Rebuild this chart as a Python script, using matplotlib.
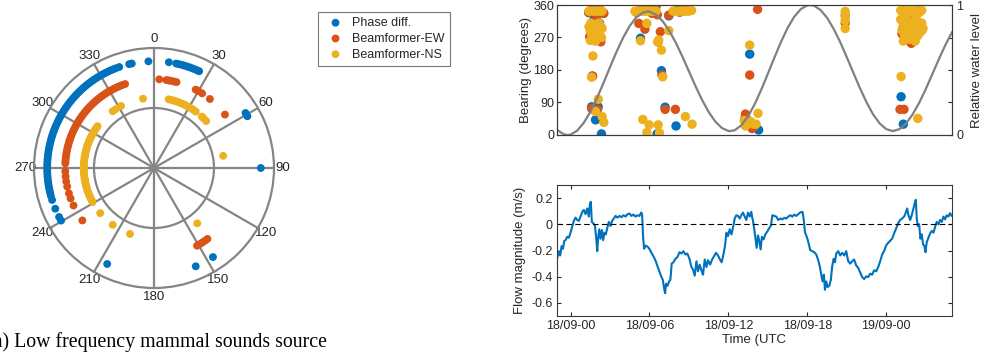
import matplotlib
matplotlib.use('Agg')
import matplotlib.pyplot as plt
import numpy as np

plt.rcParams['font.family'] = ['Liberation Sans', 'DejaVu Sans']
plt.rcParams['axes.unicode_minus'] = False

# ---------------- data ----------------
series_names = ['Phase diff.', 'Beamformer-EW', 'Beamformer-NS']

# polar plot: bearings (degrees) and plotted radius of each series
phase_polar_deg = [240.5, 242.7, 247.6, 252.6, 255, 256.5, 258, 259.5, 261, 262.5, 264, 265.5,
                   267, 268.5, 270, 271.5, 273, 274.5, 276, 277.5, 279, 280.5, 282, 283.5, 285,
                   286.5, 288, 289.5, 291, 292.5, 294, 295.5, 297, 298.5, 300, 301.5, 303, 304.5,
                   306, 307.5, 309, 310.5, 312, 313.5, 315, 316.5, 318, 319.5, 321, 322.5, 324,
                   325.5, 327, 328.5, 330, 331.5, 333, 334.5, 336, 337.5, 339, 341, 346.6, 348,
                   357, 8, 12, 13.5, 15, 16.5, 18, 19.5, 21, 22.5, 24, 25, 59, 61, 90, 146.5,
                   157, 206]
ew_polar_deg = [233.8, 245, 250, 253.4, 257.9, 261.3, 264.5, 267.8, 273, 274.5, 276, 277.5,
                279, 280.5, 282, 283.5, 285, 286.5, 288, 289.5, 291, 292.5, 294, 295.5, 297,
                298.5, 300, 301.5, 303, 304.5, 306, 307.5, 309, 310.5, 312, 313.5, 315, 316.5,
                318, 319.5, 321, 322.5, 324, 325.5, 327, 328.5, 330, 331.5, 333, 334.5, 336,
                337.5, 339, 341, 3.4, 8, 9.5, 11, 13, 14.7, 28, 30, 32.8, 39, 53, 143, 145,
                147, 149, 151]
ns_polar_deg = [230, 241, 242.5, 244, 245.5, 247, 248.5, 250, 251.5, 253, 254.5, 256, 257.5,
                259, 260.5, 262, 263.5, 265, 266.5, 268, 269.5, 271, 272.5, 274, 275.5, 277,
                278.5, 280, 281.5, 283, 284.5, 286, 287.5, 289, 290.5, 292, 293.5, 295, 296.5,
                298, 299.5, 301, 302.5, 304, 305.5, 306.5, 324, 327, 332, 351, 12, 14, 16, 18,
                20, 22, 24, 26, 28, 30, 32, 34, 36.5, 43, 45, 48, 80, 142, 200, 216]
polar_radius = [0.89, 0.74, 0.585]

# bearing vs time (hours after 18/09 00:00 UTC)
phase_t = [1.39, 1.55, 1.60, 2.10, 1.65, 1.90, 2.35, 1.90, 2.50, 1.50, 1.80, 2.00, 2.20, 1.70,
           5.32, 5.90, 6.50, 6.91, 7.19, 6.58, 7.47, 8.02, 8.70, 8.20, 5.60, 6.20,
           13.62, 14.30, 13.50,
           26.45, 25.13, 25.30, 25.20, 25.50, 25.80, 26.20, 26.60, 25.40]
phase_b = [339, 291, 78, 78, 163, 42, 3, 354, 337, 300, 320, 280, 310, 270,
           268, 358, 356, 178, 77, 3, 330, 25, 357, 352, 345, 340,
           224, 14, 40,
           358, 106, 30, 320, 300, 280, 330, 290, 340]
ew_t = [1.39, 1.90, 2.53, 1.45, 2.30, 1.70, 2.00, 1.60, 1.65, 2.05, 1.68, 1.55, 2.20,
        5.19, 5.65, 5.00, 5.40, 5.80, 6.20, 6.45, 6.60, 6.83, 6.66, 6.95, 7.19, 7.47, 7.97,
        8.30, 8.90, 8.60,
        14.22, 13.62, 13.30, 13.25, 13.40, 13.80, 14.00,
        20.88, 20.88, 25.05, 25.35, 25.90, 25.30, 25.60, 26.00, 26.30, 26.70, 25.40, 26.50, 25.20]
ew_b = [339, 354, 337, 272, 258, 300, 330, 74, 71, 71, 163, 345, 350,
        309, 293, 340, 350, 345, 337, 350, 333, 286, 258, 166, 71, 332, 71,
        340, 345, 350,
        348, 166, 58, 46, 28, 18, 25,
        332, 310, 71, 71, 254, 300, 320, 335, 310, 290, 345, 340, 280]
ns_t = [1.40, 1.60, 1.80, 2.00, 2.20, 2.40, 1.40, 1.50, 1.55, 1.60, 1.70, 1.75, 1.80, 1.85,
        1.95, 2.00, 2.05, 2.15, 2.20, 2.30, 2.40, 1.50, 1.90, 2.35, 1.70, 1.60, 2.10, 1.90,
        2.40, 2.53,
        4.90, 5.10, 5.30, 5.50, 5.70, 5.90, 6.10, 6.30, 6.50, 5.80, 5.32, 6.70, 6.62, 6.91,
        7.47, 7.01, 5.49, 5.98, 5.80, 6.66, 6.76, 8.73, 9.24, 7.80, 8.00, 8.20, 8.40, 8.60,
        8.80, 9.00, 9.20,
        13.62, 13.20, 13.35, 13.50, 13.70, 13.90, 14.25, 14.10, 13.30,
        20.88, 20.88, 20.88, 20.88, 25.10, 25.30, 25.50, 25.70, 25.90, 26.10, 26.30, 26.50,
        26.70, 25.10, 25.30, 25.50, 25.70, 25.90, 26.10, 26.30, 26.50, 26.70, 25.20, 25.40,
        25.60, 25.80, 26.00, 26.20, 26.40, 26.60, 26.80, 25.60, 26.00, 25.30, 25.13, 26.40]
ns_b = [343, 343, 343, 343, 343, 343, 300, 290, 310, 280, 295, 265, 305, 285,
        300, 270, 290, 310, 280, 300, 295, 262, 260, 270, 219, 160, 99, 65,
        51, 35,
        343, 343, 343, 343, 343, 343, 343, 343, 343, 309, 261, 263, 258, 235,
        289, 161, 43, 28, 7, 28, 6, 51, 30, 343, 343, 343, 343, 343,
        343, 343, 345,
        249, 40, 32, 35, 37, 30, 60, 30, 25,
        342, 328, 317, 295, 345, 340, 345, 340, 345, 340, 345, 340,
        345, 320, 310, 325, 300, 315, 290, 320, 300, 310, 290, 275,
        285, 265, 280, 260, 275, 285, 295, 300, 305, 260, 162, 46]

# relative water level
tide_t = [-1.0, -0.5, -0.23, 0.0, 0.5, 1.0, 1.5, 2.0, 2.5, 3.0, 3.5, 4.0, 4.5, 5.0, 5.5, 5.85,
          6.0, 6.5, 7.0, 7.5, 8.0, 8.5, 9.0, 9.5, 10.0, 10.5, 11.0, 11.5, 12.0, 12.15, 12.5,
          13.0, 13.5, 14.0, 14.5, 15.0, 15.5, 16.0, 16.5, 17.0, 17.5, 18.0, 18.2, 18.5, 19.0,
          19.5, 20.0, 20.5, 21.0, 21.5, 22.0, 22.5, 23.0, 23.5, 24.0, 24.5, 25.0, 25.5, 26.0,
          26.5, 27.0, 27.5, 28.0, 28.5, 29.0]
tide_level = [0.037, 0.005, 0.0, 0.003, 0.033, 0.093, 0.177, 0.282, 0.399, 0.522, 0.641,
              0.749, 0.839, 0.905, 0.942, 0.95,
              0.949, 0.926, 0.876, 0.803, 0.710, 0.604, 0.490, 0.376, 0.270, 0.177, 0.104,
              0.054, 0.031, 0.03, 0.038,
              0.076, 0.144, 0.237, 0.349, 0.471, 0.596, 0.716, 0.823, 0.909, 0.968, 0.997,
              1.0, 0.995, 0.962,
              0.902, 0.817, 0.715, 0.599, 0.479, 0.361, 0.252, 0.159, 0.089, 0.045, 0.030,
              0.045, 0.088, 0.157,
              0.247, 0.352, 0.467, 0.583, 0.693, 0.790]

# flow magnitude (m/s)
flow_t = [-1.01, -0.89, -0.79, -0.68, -0.58, -0.48, -0.38, -0.25, -0.13, 0.00,
          0.13, 0.25, 0.38, 0.51, 0.63, 0.76, 0.89, 1.01, 1.14, 1.27,
          1.39, 1.47, 1.54, 1.62, 1.72, 1.85, 1.95, 2.03, 2.10, 2.18,
          2.28, 2.38, 2.48, 2.58, 2.68, 2.78, 2.91, 3.04, 3.16, 3.29,
          3.42, 3.57, 3.72, 3.87, 4.02, 4.18, 4.33, 4.48, 4.63, 4.78,
          4.94, 5.09, 5.24, 5.37, 5.44, 5.52, 5.59, 5.72, 5.87, 6.02,
          6.18, 6.33, 6.48, 6.63, 6.78, 6.91, 7.01, 7.11, 7.19, 7.26,
          7.37, 7.49, 7.59, 7.69, 7.82, 7.97, 8.13, 8.28, 8.43, 8.58,
          8.73, 8.88, 9.04, 9.19, 9.31, 9.44, 9.57, 9.69, 9.82, 9.95,
          10.07, 10.20, 10.33, 10.45, 10.61, 10.76, 10.91, 11.06, 11.21, 11.36,
          11.49, 11.62, 11.74, 11.85, 11.97, 12.10, 12.23, 12.35, 12.48, 12.60,
          12.73, 12.86, 12.98, 13.11, 13.24, 13.36, 13.49, 13.62, 13.74,
          13.79, 13.87, 13.97, 14.05, 14.15, 14.25, 14.35, 14.45, 14.55, 14.68,
          14.81, 14.93, 15.09, 15.24, 15.34, 15.49, 15.64, 15.79, 15.95, 16.10,
          16.25, 16.40, 16.55, 16.71, 16.86, 17.01, 17.16, 17.31, 17.46, 17.64,
          17.74, 17.82, 17.92, 18.02, 18.12, 18.22, 18.38, 18.53, 18.68, 18.83,
          18.96, 19.06, 19.16, 19.26, 19.34, 19.44, 19.54, 19.67, 19.79, 19.89,
          20.00, 20.10, 20.20, 20.35, 20.50, 20.65, 20.81, 20.96, 21.11, 21.26,
          21.41, 21.56, 21.72, 21.87, 22.02, 22.17, 22.32, 22.48, 22.63, 22.78,
          22.93, 23.08, 23.24, 23.39, 23.54, 23.69, 23.84, 23.99, 24.15, 24.30,
          24.45, 24.60, 24.75, 24.91, 25.06, 25.21, 25.36, 25.49, 25.59, 25.69,
          25.82, 25.94, 26.07, 26.17, 26.25, 26.32, 26.40, 26.50, 26.60, 26.70,
          26.80, 26.91, 26.98, 27.08, 27.21, 27.34, 27.46, 27.59, 27.72, 27.84,
          27.97, 28.09, 28.22, 28.35, 28.47, 28.60, 28.73, 28.85, 28.98, 29.10]
flow_v = [-0.256, -0.205, -0.238, -0.167, -0.187, -0.128, -0.121, -0.095, -0.103, -0.064,
          -0.018, 0.026, 0.051, 0.033, 0.026, 0.059, 0.095, 0.110, 0.077, 0.121,
          0.059, 0.154, 0.172, 0.018, 0.008, -0.008, -0.103, -0.205, -0.103, -0.038,
          -0.110, -0.044, -0.121, -0.064, -0.077, -0.033, 0.018, -0.013, 0.026, 0.044,
          0.064, 0.051, 0.064, 0.054, 0.069, 0.059, 0.077, 0.082, 0.064, 0.074,
          0.059, 0.069, 0.064, 0.090, 0.077, -0.103, -0.187, -0.162, -0.172, -0.192,
          -0.223, -0.249, -0.282, -0.326, -0.367, -0.403, -0.423, -0.487, -0.526, -0.454,
          -0.469, -0.436, -0.423, -0.300, -0.290, -0.264, -0.249, -0.213, -0.223, -0.205,
          -0.231, -0.223, -0.264, -0.326, -0.346, -0.392, -0.282, -0.359, -0.308, -0.351,
          -0.385, -0.269, -0.326, -0.274, -0.308, -0.269, -0.244, -0.218, -0.238, -0.269,
          -0.290, -0.231, -0.167, -0.064, -0.090, -0.038, -0.077, -0.026, 0.044, 0.069,
          0.064, 0.044, 0.069, 0.090, 0.059, 0.033, 0.090, 0.059, 0.095,
          0.064, 0.026, -0.038, -0.103, -0.180, -0.085, -0.128, -0.192, -0.095, -0.115,
          -0.077, -0.059, -0.033, -0.008, 0.069, 0.064, 0.059, 0.033, 0.044, 0.038,
          0.049, 0.044, 0.059, 0.069, 0.059, 0.074, 0.064, 0.077, 0.090, 0.095,
          0.026, -0.059, -0.085, -0.115, -0.154, -0.197, -0.205, -0.213, -0.231, -0.274,
          -0.326, -0.385, -0.436, -0.385, -0.500, -0.436, -0.479, -0.469, -0.423, -0.321,
          -0.264, -0.290, -0.223, -0.205, -0.238, -0.218, -0.238, -0.205, -0.282, -0.300,
          -0.282, -0.269, -0.315, -0.333, -0.367, -0.403, -0.418, -0.397, -0.403, -0.377,
          -0.385, -0.351, -0.359, -0.326, -0.282, -0.231, -0.205, -0.162, -0.141, -0.126,
          -0.110, -0.069, -0.033, 0.008, 0.033, 0.044, 0.059, 0.090, 0.121, 0.069,
          0.033, 0.069, 0.121, 0.162, 0.187, 0.044, -0.013, 0.000, -0.110, -0.077,
          -0.154, -0.167, -0.213, -0.136, -0.103, -0.069, -0.051, -0.064, -0.018, 0.018,
          0.000, 0.033, 0.018, 0.059, 0.038, 0.069, 0.059, 0.085, 0.064, 0.069]

time_ticks = [0, 6, 12, 18, 24]
time_tick_labels = ['18/09-00', '18/09-06', '18/09-12', '18/09-18', '19/09-00']
polar_tick_deg = [0, 30, 60, 90, 120, 150, 180, 210, 240, 270, 300, 330]
bearing_ticks = [0, 90, 180, 270, 360]
flow_ticks = [-0.6, -0.4, -0.2, 0, 0.2]

# ---------------- style ----------------
COLORS = ['#0072BD', '#D95319', '#EDB120']
GRID = '#858585'
FRAME = '#3a3a3a'
TXT = '#262626'
W, H = 982, 355

fig = plt.figure(figsize=(W / 100, H / 100), dpi=100)

# ---- polar plot ----
axp = fig.add_axes([34 / W, 1 - 288 / H, 240 / W, 240 / H], projection='polar')
axp.set_theta_zero_location('N')
axp.set_theta_direction(-1)
handles = []
for deg, r, c, name in zip([phase_polar_deg, ew_polar_deg, ns_polar_deg], polar_radius,
                           COLORS, series_names):
    h = axp.scatter(np.deg2rad(deg), [r] * len(deg), s=32, color=c, edgecolors='none',
                    zorder=3, label=name)
    handles.append(h)
axp.set_ylim(0, 1)
axp.set_thetagrids(polar_tick_deg, labels=[str(d) for d in polar_tick_deg])
axp.set_rgrids([0.5], labels=[''])
axp.grid(True, color=GRID, lw=1.6)
axp.spines['polar'].set_color(GRID)
axp.spines['polar'].set_linewidth(1.6)
axp.tick_params(axis='x', labelsize=9.5, colors=TXT, pad=-4)
axp.set_axisbelow(True)

leg = fig.legend(handles=handles, labels=series_names, loc='upper left',
                 bbox_to_anchor=(318 / W, 1 - 12 / H), fontsize=9, frameon=True,
                 fancybox=False, edgecolor='#555555', handletextpad=0.35, borderpad=0.4,
                 labelspacing=0.3, handlelength=2.0, borderaxespad=0)
leg.get_frame().set_linewidth(0.8)
for t in leg.get_texts():
    t.set_color(TXT)

# ---- bearing vs time ----
xlim = (-1.03, 29.0)
ax1 = fig.add_axes([557 / W, 1 - 135 / H, 395 / W, 130 / H])
for tt, bb, c in zip([phase_t, ew_t, ns_t], [phase_b, ew_b, ns_b], COLORS):
    ax1.scatter(tt, bb, s=46, color=c, edgecolors='none', zorder=3)
ax1.set_xlim(*xlim)
ax1.set_ylim(0, 360)
ax1.set_yticks(bearing_ticks)
ax1.set_xticks([])
ax1.set_ylabel('Bearing (degrees)', fontsize=9.5, color=TXT, labelpad=1)
ax1.tick_params(axis='y', direction='in', length=3, labelsize=9, colors=TXT, pad=2)
for s in ax1.spines.values():
    s.set_color(FRAME)
    s.set_linewidth(0.8)

ax2 = ax1.twinx()
ax2.plot(tide_t, tide_level, color='#808080', lw=1.6)
ax2.set_ylim(0, 1)
ax2.set_xlim(*xlim)
ax2.set_yticks([0, 0.25, 0.5, 0.75, 1])
ax2.set_yticklabels(['0', '', '', '', '1'])
ax2.set_ylabel('Relative water level', fontsize=9.5, color=TXT, labelpad=6)
ax2.tick_params(axis='y', direction='in', length=3, labelsize=9, colors=TXT, pad=3)
for s in ax2.spines.values():
    s.set_color(FRAME)
    s.set_linewidth(0.8)

# ---- flow magnitude ----
ax3 = fig.add_axes([557 / W, 1 - 316 / H, 395 / W, 131 / H])
ax3.plot(flow_t, flow_v, color=COLORS[0], lw=1.5)
ax3.axhline(0, color='black', lw=0.8, ls=(0, (5, 3)))
ax3.set_xlim(*xlim)
ax3.set_ylim(-0.7, 0.3)
ax3.set_yticks(flow_ticks)
ax3.set_yticklabels(['-0.6', '-0.4', '-0.2', '0', '0.2'])
ax3.set_xticks(time_ticks)
ax3.set_xticklabels(time_tick_labels)
ax3.set_ylabel('Flow magnitude (m/s)', fontsize=9.5, color=TXT, labelpad=4)
ax3.set_xlabel('Time (UTC', fontsize=9.5, color=TXT, labelpad=1)
ax3.tick_params(direction='in', length=3, labelsize=9, colors=TXT, top=True, right=True,
                pad=3)
for s in ax3.spines.values():
    s.set_color(FRAME)
    s.set_linewidth(0.8)

# ---- caption (cut off at the left, as in the source) ----
fig.text(327 / W, 1 - 347 / H, '(a) Low frequency mammal sounds source', ha='right',
         va='baseline', fontsize=14.3, family=['Liberation Serif', 'DejaVu Serif'],
         color='black')

fig.savefig('out.png', dpi=100)
